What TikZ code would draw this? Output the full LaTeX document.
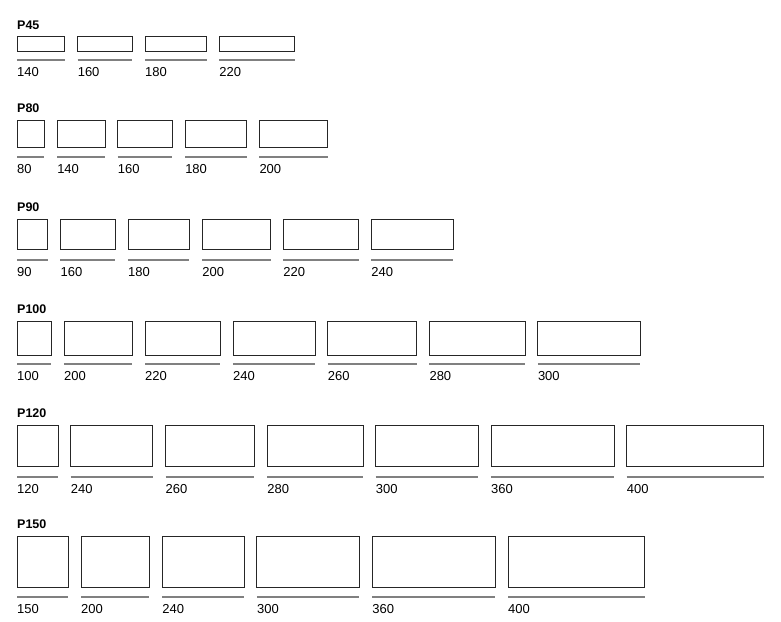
\documentclass[tikz,border=0pt]{standalone}
\usepackage{fontspec}
\setmainfont{Liberation Sans}
\begin{document}
\begin{tikzpicture}[x=1pt,y=1pt,
  boxshape/.style={draw=black!85, line width=0.8pt, inner sep=0pt, outer sep=0pt, anchor=north west},
  uline/.style={draw=black!50, line width=1.1pt},
  lab/.style={inner sep=0pt, anchor=base west, font=\fontsize{13}{15}\selectfont, text=black},
  ttl/.style={inner sep=0pt, anchor=base west, font=\fontsize{12.5}{15}\selectfont\bfseries, text=black}]
\useasboundingbox (0,0) rectangle (781,-621);
\newcommand\prow[6]{%
  \node[ttl] (#1-t) at (17,-#4+7.5) {#2};
  \gdef\curx{17}%
  \pgfmathsetmacro\hh{#3*0.342}%
  \foreach \L [count=\i] in {#6} {%
    \pgfmathsetmacro\w{\L*0.342}%
    \node[boxshape, minimum width=\w pt, minimum height=\hh pt] (#1-\i) at (\curx,-#4) {};
    \coordinate (#1-\i-l) at (\curx,-#5);
    \pgfmathsetmacro\ex{\curx+\w}%
    \coordinate (#1-\i-r) at (\ex,-#5);
    \draw[uline] (#1-\i-l) -- (#1-\i-r);
    \node[lab] (#1-\i-n) at ([yshift=-16pt]#1-\i-l) {\L};
    \pgfmathsetmacro\nx{\curx+\w+12.7}%
    \xdef\curx{\nx}%
  }%
}
\prow{a}{P45}{45}{36.5}{60}{140,160,180,220}
\prow{b}{P80}{80}{120}{157}{80,140,160,180,200}
\prow{c}{P90}{90}{219}{260}{90,160,180,200,220,240}
\prow{d}{P100}{100}{321}{364}{100,200,220,240,260,280,300}
\prow{e}{P120}{120}{425}{477}{120,240,260,280,300,360,400}
\prow{f}{P150}{150}{536}{597}{150,200,240,300,360,400}
\end{tikzpicture}
\end{document}
